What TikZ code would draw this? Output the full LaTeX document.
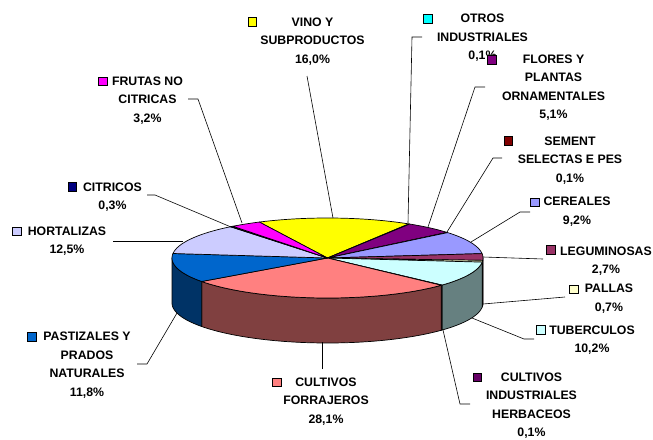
\documentclass[tikz,border=0pt]{standalone}
\usepackage{fontspec}
\setmainfont{Liberation Sans}
\definecolor{cVino}{HTML}{FFFF00}
\definecolor{cOtros}{HTML}{00FFFF}
\definecolor{cFlores}{HTML}{800080}
\definecolor{cSement}{HTML}{800000}
\definecolor{cCereal}{HTML}{9999FF}
\definecolor{cLegum}{HTML}{993366}
\definecolor{cPallas}{HTML}{FFFFCC}
\definecolor{cTuber}{HTML}{CCFFFF}
\definecolor{cCih}{HTML}{660066}
\definecolor{cForr}{HTML}{FF8080}
\definecolor{cPast}{HTML}{0066CC}
\definecolor{cHort}{HTML}{CCCCFF}
\definecolor{cCitr}{HTML}{000080}
\definecolor{cFrut}{HTML}{FF00FF}
\definecolor{sLegum}{HTML}{4D1A33}
\definecolor{sPallas}{HTML}{808066}
\definecolor{sTuber}{HTML}{668080}
\definecolor{sCih}{HTML}{330033}
\definecolor{sForr}{HTML}{804040}
\definecolor{sPast}{HTML}{003366}
\newcommand\pieTop[2]{({327.5+155.5*sin(#1)},{258-40*cos(#1)})}
\newcommand\myslice[3]{%
  \filldraw[fill=#3, slice] (327.5,258) -- plot[domain=#1:#2, samples=60, variable=\t] ({327.5+155.5*sin(\t)},{258-40*cos(\t)}) -- cycle;}
\newcommand\myside[3]{%
  \filldraw[fill=#3, slice] plot[domain=#1:#2, samples=60, variable=\t] ({327.5+155.5*sin(\t)},{258-40*cos(\t)}) -- plot[domain=#2:#1, samples=60, variable=\t] ({327.5+155.5*sin(\t)},{303-40*cos(\t)}) -- cycle;}
\begin{document}
\begin{tikzpicture}[x=1pt,y=-1pt,
  slice/.style={draw=black, line width=0.7pt, line join=round},
  lbl/.style={font=\bfseries\fontsize{12.3}{18.4}\selectfont, align=center, inner sep=0pt, anchor=north},
  sq/.style={draw=black, line width=0.6pt, minimum size=8.5pt, inner sep=0pt},
  leader/.style={draw=black, line width=0.6pt}]
\useasboundingbox[fill=white] (0,0) rectangle (653,439);
% sides
\myside{90}{93.40}{sLegum}
\myside{93.40}{95.91}{sPallas}
\myside{95.91}{132.60}{sTuber}
\myside{132.60}{132.96}{sCih}
\myside{132.96}{234.02}{sForr}
\myside{234.02}{270}{sPast}
% top faces
\myslice{-26}{31.54}{cVino}
\myslice{31.54}{31.90}{cOtros}
\myslice{31.90}{50.24}{cFlores}
\myslice{50.24}{50.60}{cSement}
\myslice{50.60}{83.69}{cCereal}
\myslice{83.69}{93.40}{cLegum}
\myslice{93.40}{95.91}{cPallas}
\myslice{95.91}{132.60}{cTuber}
\myslice{132.60}{132.96}{cCih}
\myslice{132.96}{234.02}{cForr}
\myslice{234.02}{276.46}{cPast}
\myslice{276.46}{321.41}{cHort}
\myslice{321.41}{322.49}{cCitr}
\myslice{322.49}{334}{cFrut}
% labels
\node[lbl] (lVino) at (312.5,17.6) {VINO Y\\SUBPRODUCTOS\\16,0\%};
\node[sq, fill=cVino] (qVino) at (252.5,22) {};
\node[lbl] (lOtros) at (482.5,14.1) {OTROS\\INDUSTRIALES\\0,1\%};
\node[sq, fill=cOtros] (qOtros) at (428,19) {};
\node[lbl] (lFlores) at (553.5,54.6) {FLORES Y\\PLANTAS\\ORNAMENTALES\\5,1\%};
\node[sq, fill=cFlores] (qFlores) at (492,60) {};
\node[lbl] (lSement) at (570,136.6) {SEMENT\\SELECTAS E PES\\0,1\%};
\node[sq, fill=cSement] (qSement) at (508.5,141) {};
\node[lbl] (lCereal) at (577,197.1) {CEREALES\\9,2\%};
\node[sq, fill=cCereal] (qCereal) at (535,202.5) {};
\node[lbl] (lLegum) at (606,246.6) {LEGUMINOSAS\\2,7\%};
\node[sq, fill=cLegum] (qLegum) at (551,250) {};
\node[lbl] (lPallas) at (609,284.1) {PALLAS\\0,7\%};
\node[sq, fill=cPallas] (qPallas) at (574,289.5) {};
\node[lbl] (lTuber) at (592,325.6) {TUBERCULOS\\10,2\%};
\node[sq, fill=cTuber] (qTuber) at (541,330) {};
\node[lbl] (lCih) at (531.5,372.6) {CULTIVOS\\INDUSTRIALES\\HERBACEOS\\0,1\%};
\node[sq, fill=cCih] (qCih) at (477.5,377.5) {};
\node[lbl] (lForr) at (326,377.6) {CULTIVOS\\FORRAJEROS\\28,1\%};
\node[sq, fill=cForr] (qForr) at (277,382.5) {};
\node[lbl] (lPast) at (87,332.1) {PASTIZALES Y\\PRADOS\\NATURALES\\11,8\%};
\node[sq, fill=cPast] (qPast) at (32,337) {};
\node[lbl] (lHort) at (67,226.6) {HORTALIZAS\\12,5\%};
\node[sq, fill=cHort] (qHort) at (17,231.5) {};
\node[lbl] (lCitr) at (112.5,182.6) {CITRICOS\\0,3\%};
\node[sq, fill=cCitr] (qCitr) at (72.5,187) {};
\node[lbl] (lFrut) at (147.5,76.6) {FRUTAS NO\\CITRICAS\\3,2\%};
\node[sq, fill=cFrut] (qFrut) at (103,81.5) {};
% leader coordinates
\coordinate (vA) at (307,76);   \coordinate (vP) at (333,218);
\coordinate (oA) at (422,37);   \coordinate (oB) at (412,37);   \coordinate (oP) at (408,223);
\coordinate (fA) at (485,87);   \coordinate (fB) at (475,87);   \coordinate (fP) at (428,227);
\coordinate (sA) at (502,158);  \coordinate (sB) at (493,158);  \coordinate (sP) at (447,232);
\coordinate (cA) at (530,212);  \coordinate (cB) at (520,212);  \coordinate (cP) at (471,242);
\coordinate (gA) at (543,259);  \coordinate (gP) at (483,257);
\coordinate (pA) at (565,297);  \coordinate (pP) at (483,304);
\coordinate (tA) at (534,339);  \coordinate (tB) at (524,339);  \coordinate (tP) at (472,318);
\coordinate (iA) at (470,404);  \coordinate (iB) at (460,404);  \coordinate (iP) at (443,330);
\coordinate (rA) at (322,369);  \coordinate (rP) at (322,342);
\coordinate (zA) at (137,364);  \coordinate (zB) at (147,364);  \coordinate (zP) at (177,313);
\coordinate (hA) at (113,241);  \coordinate (hP) at (183,241);
\coordinate (kA) at (147,195);  \coordinate (kB) at (155,195);  \coordinate (kP) at (231,227);
\coordinate (uA) at (188,99);   \coordinate (uB) at (198,99);   \coordinate (uP) at (242,223);
\draw[leader] (vA) -- (vP);
\draw[leader] (oA) -- (oB) -- (oP);
\draw[leader] (fA) -- (fB) -- (fP);
\draw[leader] (sA) -- (sB) -- (sP);
\draw[leader] (cA) -- (cB) -- (cP);
\draw[leader] (gA) -- (gP);
\draw[leader] (pA) -- (pP);
\draw[leader] (tA) -- (tB) -- (tP);
\draw[leader] (iA) -- (iB) -- (iP);
\draw[leader] (rA) -- (rP);
\draw[leader] (zA) -- (zB) -- (zP);
\draw[leader] (hA) -- (hP);
\draw[leader] (kA) -- (kB) -- (kP);
\draw[leader] (uA) -- (uB) -- (uP);
\end{tikzpicture}
\end{document}
